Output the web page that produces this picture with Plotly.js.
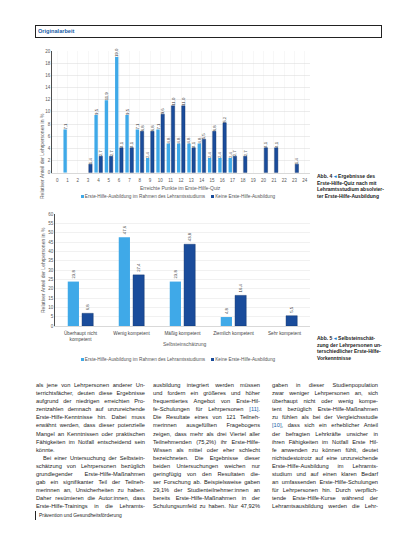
<!DOCTYPE html>
<html><head><meta charset="utf-8">
<script src="https://cdn.plot.ly/plotly-3.0.1.min.js"></script>
<style>
html,body{margin:0;padding:0;background:#fff;width:413px;height:550px;overflow:hidden;}
#page{position:relative;width:413px;height:550px;font-family:"Liberation Sans",Arial,sans-serif;color:#222;}
#chart{position:absolute;left:0;top:0;width:413px;height:550px;}
.hdr{position:absolute;left:35px;top:25px;width:345px;height:11px;border:0.8px solid #222;}
.hdr span{position:absolute;left:2px;top:2px;font-size:5.6px;font-weight:bold;color:#1b5ea8;}
.cap{position:absolute;left:317px;font-size:5px;line-height:6.7px;font-weight:bold;color:#222;white-space:nowrap;}
.cap b{color:#1b7fd0;}
.col{position:absolute;font-size:5.7px;line-height:8.1px;color:#1a1a1a;}
.col div{white-space:nowrap;height:8.1px;}
.ref{color:#1b5ea8;}
.legend{position:absolute;left:0;font-size:4.7px;color:#555;white-space:nowrap;text-align:center;}
.legend span{margin:0 3px;}
.legend i{display:inline-block;width:3px;height:3px;margin-right:1px;vertical-align:-0.3px;}
.foot{position:absolute;left:39px;top:513px;font-size:4.9px;color:#222;}
.footbar{position:absolute;left:35px;top:511px;width:0.9px;height:9px;background:#222;}
</style></head>
<body><div id="page">
<div id="chart"></div>
<div class="hdr"><span>Originalarbeit</span></div>
<div class="legend" id="leg1" style="top:194px;width:356px;"></div>
<div class="legend" id="leg2" style="top:357px;width:356px;"></div>
<div class="cap" style="top:173px;">
<div>Abb. 4 <b>◂</b> Ergebnisse des</div>
<div>Erste-Hilfe-Quiz nach mit</div>
<div>Lehramtsstudium absolvier-</div>
<div>ter Erste-Hilfe-Ausbildung</div>
</div>
<div class="cap" style="top:335px;">
<div>Abb. 5 <b>◂</b> Selbsteinschät-</div>
<div>zung der Lehrpersonen un-</div>
<div>terschiedlicher Erste-Hilfe-</div>
<div>Vorkenntnisse</div>
</div>
<div class="col" style="left:36px;top:381px;width:109px;">
<div class="j">als jene von Lehrpersonen anderer Un-</div>
<div class="j">terrichtsfächer, deuten diese Ergebnisse</div>
<div class="j">aufgrund der niedrigen erreichten Pro-</div>
<div class="j">zentzahlen demnach auf unzureichende</div>
<div class="j">Erste-Hilfe-Kenntnisse hin. Dabei muss</div>
<div class="j">erwähnt werden, dass dieser potenzielle</div>
<div class="j">Mangel an Kenntnissen oder praktischen</div>
<div class="j">Fähigkeiten im Notfall entscheidend sein</div>
<div>könnte.</div>
<div class="j" style="padding-left:7px;">Bei einer Untersuchung der Selbstein-</div>
<div class="j">schätzung von Lehrpersonen bezüglich</div>
<div class="j">grundlegender Erste-Hilfe-Maßnahmen</div>
<div class="j">gab ein signifikanter Teil der Teilneh-</div>
<div class="j">merinnen an, Unsicherheiten zu haben.</div>
<div class="j">Daher resümieren die Autor:innen, dass</div>
<div class="j">Erste-Hilfe-Trainings in die Lehramts-</div>
</div>
<div class="col" style="left:153px;top:381px;width:107px;">
<div class="j">ausbildung integriert werden müssen</div>
<div class="j">und fordern ein größeres und höher</div>
<div class="j">frequentiertes Angebot von Erste-Hil-</div>
<div class="j">fe-Schulungen für Lehrpersonen <span class="ref">[11]</span>.</div>
<div class="j">Die Resultate eines von 121 Teilneh-</div>
<div class="j">merinnen ausgefüllten Fragebogens</div>
<div class="j">zeigen, dass mehr als drei Viertel aller</div>
<div class="j">Teilnehmenden (75,2%) ihr Erste-Hilfe-</div>
<div class="j">Wissen als mittel oder eher schlecht</div>
<div class="j">bezeichneten. Die Ergebnisse dieser</div>
<div class="j">beiden Untersuchungen weichen nur</div>
<div class="j">geringfügig von den Resultaten die-</div>
<div class="j">ser Forschung ab. Beispielsweise gaben</div>
<div class="j">29,1% der Studienteilnehmer:innen an</div>
<div class="j">bereits Erste-Hilfe-Maßnahmen in der</div>
<div class="j">Schulungsumfeld zu haben. Nur 47,92%</div>
</div>
<div class="col" style="left:272px;top:381px;width:106px;">
<div class="j">gaben in dieser Studienpopulation</div>
<div class="j">zwar weniger Lehrpersonen an, sich</div>
<div class="j">überhaupt nicht oder wenig kompe-</div>
<div class="j">tent bezüglich Erste-Hilfe-Maßnahmen</div>
<div class="j">zu fühlen als bei der Vergleichsstudie</div>
<div class="j"><span class="ref">[10]</span>, dass sich ein erheblicher Anteil</div>
<div class="j">der befragten Lehrkräfte unsicher in</div>
<div class="j">ihren Fähigkeiten im Notfall Erste Hil-</div>
<div class="j">fe anwenden zu können fühlt, deutet</div>
<div class="j">nichtsdestotrotz auf eine unzureichende</div>
<div class="j">Erste-Hilfe-Ausbildung im Lehramts-</div>
<div class="j">studium und auf einen klaren Bedarf</div>
<div class="j">an umfassenden Erste-Hilfe-Schulungen</div>
<div class="j">für Lehrpersonen hin. Durch verpflich-</div>
<div class="j">tende Erste-Hilfe-Kurse während der</div>
<div class="j">Lehramtsausbildung werden die Lehr-</div>
</div>
<div class="footbar"></div>
<div class="foot">Prävention und Gesundheitsförderung</div>
</div>
<script>
// ---------- data ----------
const seriesNames = ['Erste-Hilfe-Ausbildung im Rahmen des Lehramtsstudiums', 'Keine Erste-Hilfe-Ausbildung'];
const quizPoints = ['0','1','2','3','4','5','6','7','8','9','10','11','12','13','14','15','16','17','18','19','20','21','22','23','24'];
const quizWithTraining = [null,7.1,null,null,9.5,11.9,19.0,9.5,7.1,2.4,7.1,4.8,4.8,4.8,4.8,2.4,2.4,2.4,null,null,null,null,null,null,null];
const quizWithoutTraining = [null,null,null,1.4,2.7,2.7,4.1,4.1,6.8,6.8,9.6,11.0,11.0,4.1,5.5,6.8,8.2,2.7,2.7,null,4.1,4.1,null,1.4,null];
const selfRatings = ['Überhaupt nicht<br>kompetent','Wenig kompetent','Mäßig kompetent','Ziemlich kompetent','Sehr kompetent'];
const selfWithTraining = [23.8,47.6,23.8,4.8,null];
const selfWithoutTraining = [6.8,27.4,43.8,16.4,5.5];
const quizTicks = [0,2,4,6,8,10,12,14,16,18,20];
const selfTicks = [0,5,10,15,20,25,30,35,40,45,50,55,60];

// ---------- styles ----------
const LIGHT = '#3fa9e8', DARK = '#1a4c9b';
const W = 413, H = 550;
const px = x => x / W, py = y => 1 - y / H;
const fmt = v => v == null ? '' : v.toFixed(1).replace('.', ',');
const FONT = 'Liberation Sans, Arial, sans-serif';

function barTrace(x, y, color, xa, ya, offset, width) {
  return {
    type: 'bar', x: x, y: y, xaxis: xa, yaxis: ya,
    marker: {color: color, line: {width: color === DARK ? 0.4 : 0, color: '#0c2d63'}},
    offset: offset, width: width,
    text: y.map(fmt), textposition: 'outside', textangle: -90,
    textfont: {size: 4.3, color: '#333', family: FONT},
    constraintext: 'none', cliponaxis: false, hoverinfo: 'skip'
  };
}

const data = [
  barTrace(quizPoints, quizWithTraining, LIGHT, 'x', 'y', -0.39, 0.325),
  barTrace(quizPoints, quizWithoutTraining, DARK, 'x', 'y', 0.065, 0.325),
  barTrace(selfRatings, selfWithTraining, LIGHT, 'x2', 'y2', -0.25, 0.22),
  barTrace(selfRatings, selfWithoutTraining, DARK, 'x2', 'y2', 0.03, 0.22)
];

const tickFont = {size: 4.5, color: '#595959', family: FONT};
const layout = {
  width: W, height: H, margin: {l: 0, r: 0, t: 0, b: 0},
  paper_bgcolor: 'rgba(0,0,0,0)', plot_bgcolor: 'rgba(0,0,0,0)',
  showlegend: false, barmode: 'overlay', separators: ',.',
  font: {family: FONT, size: 5, color: '#595959'},
  xaxis: {
    domain: [px(52), px(310)], anchor: 'y', type: 'category', range: [-0.5, 24.5],
    tickfont: tickFont, ticks: 'outside', ticklen: 3, tickcolor: 'rgba(0,0,0,0)',
    showgrid: true, gridcolor: '#efefef', gridwidth: 0.5,
    showline: true, linecolor: '#bfbfbf', linewidth: 0.6, fixedrange: true
  },
  yaxis: {
    domain: [py(172.7), py(51)], anchor: 'x', range: [0, 20],
    tickvals: quizTicks, ticktext: quizTicks.map(String), tickfont: tickFont, ticks: '',
    showgrid: true, gridcolor: '#d9d9d9', gridwidth: 0.5, zeroline: false,
    showline: true, linecolor: '#222', linewidth: 0.8, fixedrange: true
  },
  xaxis2: {
    domain: [px(55), px(310)], anchor: 'y2', type: 'category', range: [-0.5, 4.5],
    tickfont: {size: 4.7, color: '#444', family: FONT}, ticks: 'outside', ticklen: 3, tickcolor: 'rgba(0,0,0,0)',
    showgrid: false, showline: true, linecolor: '#bfbfbf', linewidth: 0.6, fixedrange: true
  },
  yaxis2: {
    domain: [py(326), py(214)], anchor: 'x2', range: [0, 60],
    tickvals: selfTicks, ticktext: selfTicks.map(String), tickfont: tickFont, ticks: '',
    showgrid: true, gridcolor: '#e4e4e4', gridwidth: 0.5, zeroline: false,
    showline: true, linecolor: '#222', linewidth: 0.8, fixedrange: true
  },
  annotations: [
    {text: 'Relativer Anteil der Lehrpersonen in %', xref: 'paper', yref: 'paper', x: px(37), y: py(111), textangle: -90, showarrow: false, font: {size: 5, color: '#595959'}},
    {text: 'Erreichte Punkte im Erste-Hilfe-Quiz', xref: 'paper', yref: 'paper', x: px(180), y: py(188), showarrow: false, font: {size: 5, color: '#595959'}},
    {text: 'Relativer Anteil der Lehrpersonen in %', xref: 'paper', yref: 'paper', x: px(38), y: py(270), textangle: -90, showarrow: false, font: {size: 5, color: '#595959'}},
    {text: 'Selbsteinschätzung', xref: 'paper', yref: 'paper', x: px(185), y: py(344), showarrow: false, font: {size: 5, color: '#595959'}}
  ]
};

Plotly.newPlot('chart', data, layout, {staticPlot: true, displayModeBar: false});

// legends built from the series names
function buildLegend(id) {
  const el = document.getElementById(id);
  [LIGHT, DARK].forEach((c, i) => {
    const s = document.createElement('span');
    const sw = document.createElement('i');
    sw.style.background = c;
    s.appendChild(sw);
    s.appendChild(document.createTextNode(seriesNames[i]));
    el.appendChild(s);
  });
}
buildLegend('leg1');
buildLegend('leg2');

// justify body text lines
document.querySelectorAll('.col').forEach(col => {
  const target = parseFloat(col.style.width);
  col.querySelectorAll('div.j').forEach(d => {
    const pad = parseFloat(d.style.paddingLeft || 0);
    const inner = document.createElement('span');
    while (d.firstChild) inner.appendChild(d.firstChild);
    d.appendChild(inner);
    const w = inner.getBoundingClientRect().width;
    const spaces = (inner.textContent.match(/ /g) || []).length;
    const extra = target - pad - w;
    if (extra > 0 && spaces > 0) d.style.wordSpacing = (extra / spaces) + 'px';
    else if (extra < 0) d.style.letterSpacing = (extra / inner.textContent.length) + 'px';
  });
});
</script>
</body></html>
